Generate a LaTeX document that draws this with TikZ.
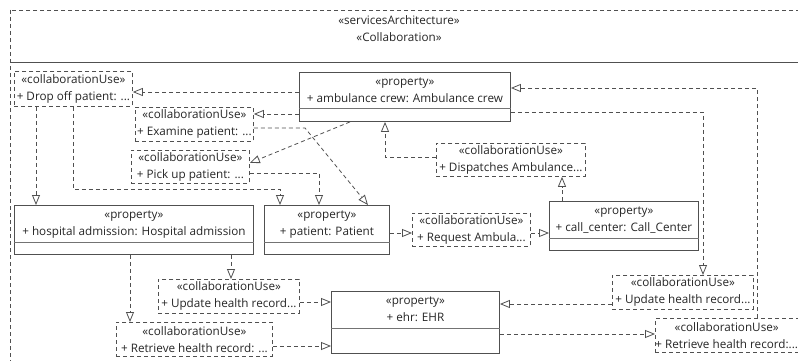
\documentclass[tikz,border=0pt]{standalone}
\usepackage{fontspec}
\setmainfont{Open Sans}
\usepackage{tikz}
\usetikzlibrary{arrows.meta}

\definecolor{umlline}{HTML}{505050}
\definecolor{umltext}{HTML}{262626}

\begin{document}
\begin{tikzpicture}[x=1pt, y=-1pt,
    font=\fontsize{11.7}{17}\selectfont, text=umltext,
    umldash/.style={dash pattern=on 4pt off 3pt},
    prop/.style={draw=umlline, line width=0.9pt, anchor=north west, inner sep=0pt},
    colluse/.style={draw=umlline, umldash, line width=0.8pt, anchor=north west, inner sep=0pt, align=center},
    real/.style={draw=umlline, umldash, line width=0.8pt, -{Triangle[open, length=10pt, width=8pt]}}]
  \useasboundingbox (0,0) rectangle (798,361);
  \clip (0,0) rectangle (798,361);

  % frame of the architecture
  \draw[umlline, umldash, line width=0.8pt] (10,10) rectangle (830,390);
  \draw[umlline, line width=0.9pt] (10,62) -- (830,62);
  \node (title) at (399,29) [align=center] {«servicesArchitecture»\\«Collaboration»};

  % properties
  \node[prop, minimum width=211pt, minimum height=49pt] (crew) at (299,72) {};
  \node[prop, minimum width=239pt, minimum height=49pt] (hosp) at (14,205) {};
  \node[prop, minimum width=125pt, minimum height=49pt] (patient) at (264,205) {};
  \node[prop, minimum width=149pt, minimum height=49pt] (callc) at (549,201) {};
  \node[prop, minimum width=168pt, minimum height=62pt] (ehr) at (331,291) {};
  \foreach \p/\s/\t in {crew/36/{+ ambulance crew: Ambulance crew},
                        hosp/37/{+ hospital admission: Hospital admission},
                        patient/37/{+ patient: Patient},
                        callc/37/{+ call\_center: Call\_Center},
                        ehr/37/{+ ehr: EHR}} {
    \draw[umlline!80, line width=0.9pt] ([yshift=-\s pt]\p.north west) -- ([yshift=-\s pt]\p.north east);
    \node[anchor=north, inner sep=0pt, align=center] (\p-txt) at ([yshift=-6pt]\p.north) {«property»\\\t};
  }

  % collaboration uses
  \node[colluse, minimum width=118pt, minimum height=35pt] (dropoff) at (14,71) {«collaborationUse»\\+ Drop off patient: ...};
  \node[colluse, minimum width=118pt, minimum height=34pt] (examine) at (135,107) {«collaborationUse»\\+ Examine patient: ...};
  \node[colluse, minimum width=118pt, minimum height=33pt] (pickup) at (131,150) {«collaborationUse»\\+ Pick up patient: ...};
  \node[colluse, minimum width=149pt, minimum height=33pt] (dispatch) at (436,143) {«collaborationUse»\\+ Dispatches Ambulance...};
  \node[colluse, minimum width=118pt, minimum height=33pt] (request) at (412,213) {«collaborationUse»\\+ Request Ambula...};
  \node[colluse, minimum width=141pt, minimum height=34pt] (updL) at (158,279) {«collaborationUse»\\+ Update health record...};
  \node[colluse, minimum width=156pt, minimum height=34pt] (retL) at (116,322) {«collaborationUse»\\+ Retrieve health record: ...};
  \node[colluse, minimum width=141pt, minimum height=34pt] (updR) at (612,275) {«collaborationUse»\\+ Update health record...};
  \node[colluse, minimum width=142pt, minimum height=34pt] (retR) at (655,318) {«collaborationUse»\\+ Retrieve health record:...};

  % connectors
  \draw[real] (crew.west |- 0,92) -- (dropoff.east |- 0,92);
  \draw[real] (crew.west |- 0,114) -- (examine.east |- 0,114);
  \draw[real] (crew.south -| 350,0) -- (pickup.east |- 0,163);
  \draw[real] (dispatch.west |- 0,157) -| (crew.south -| 385,0);
  \draw[real] (callc.north -| 562,0) -- (dispatch.south -| 562,0);
  \draw[real] (retR.north -| 757,0) |- (crew.east |- 0,88);
  \draw[real] (crew.east |- 0,112) -| (updR.north -| 703,0);
  \draw[real] (dropoff.south -| 36,0) -- (hosp.north -| 36,0);
  \draw[real] (dropoff.south -| 73,0) -- (73,189) -- (280,189) -- (patient.north -| 280,0);
  \draw[real] (pickup.east |- 0,173) -| (patient.north -| 319,0);
  \draw[real] (examine.east |- 0,128) -- (305,128) -- (patient.north -| 368,0);
  \draw[real] (patient.east |- 0,233) -- (request.west |- 0,233);
  \draw[real] (request.east |- 0,233) -- (callc.west |- 0,233);
  \draw[real] (hosp.south -| 231,0) -- (updL.north -| 231,0);
  \draw[real] (hosp.south -| 130,0) -- (retL.north -| 130,0);
  \draw[real] (updL.east |- 0,302) -- (ehr.west |- 0,302);
  \draw[real] (retL.east |- 0,346) -- (ehr.west |- 0,346);
  \draw[real] (updR.west |- 0,304) -- (ehr.east |- 0,304);
  \draw[real] (ehr.east |- 0,334) -- (retR.west |- 0,334);
\end{tikzpicture}
\end{document}
